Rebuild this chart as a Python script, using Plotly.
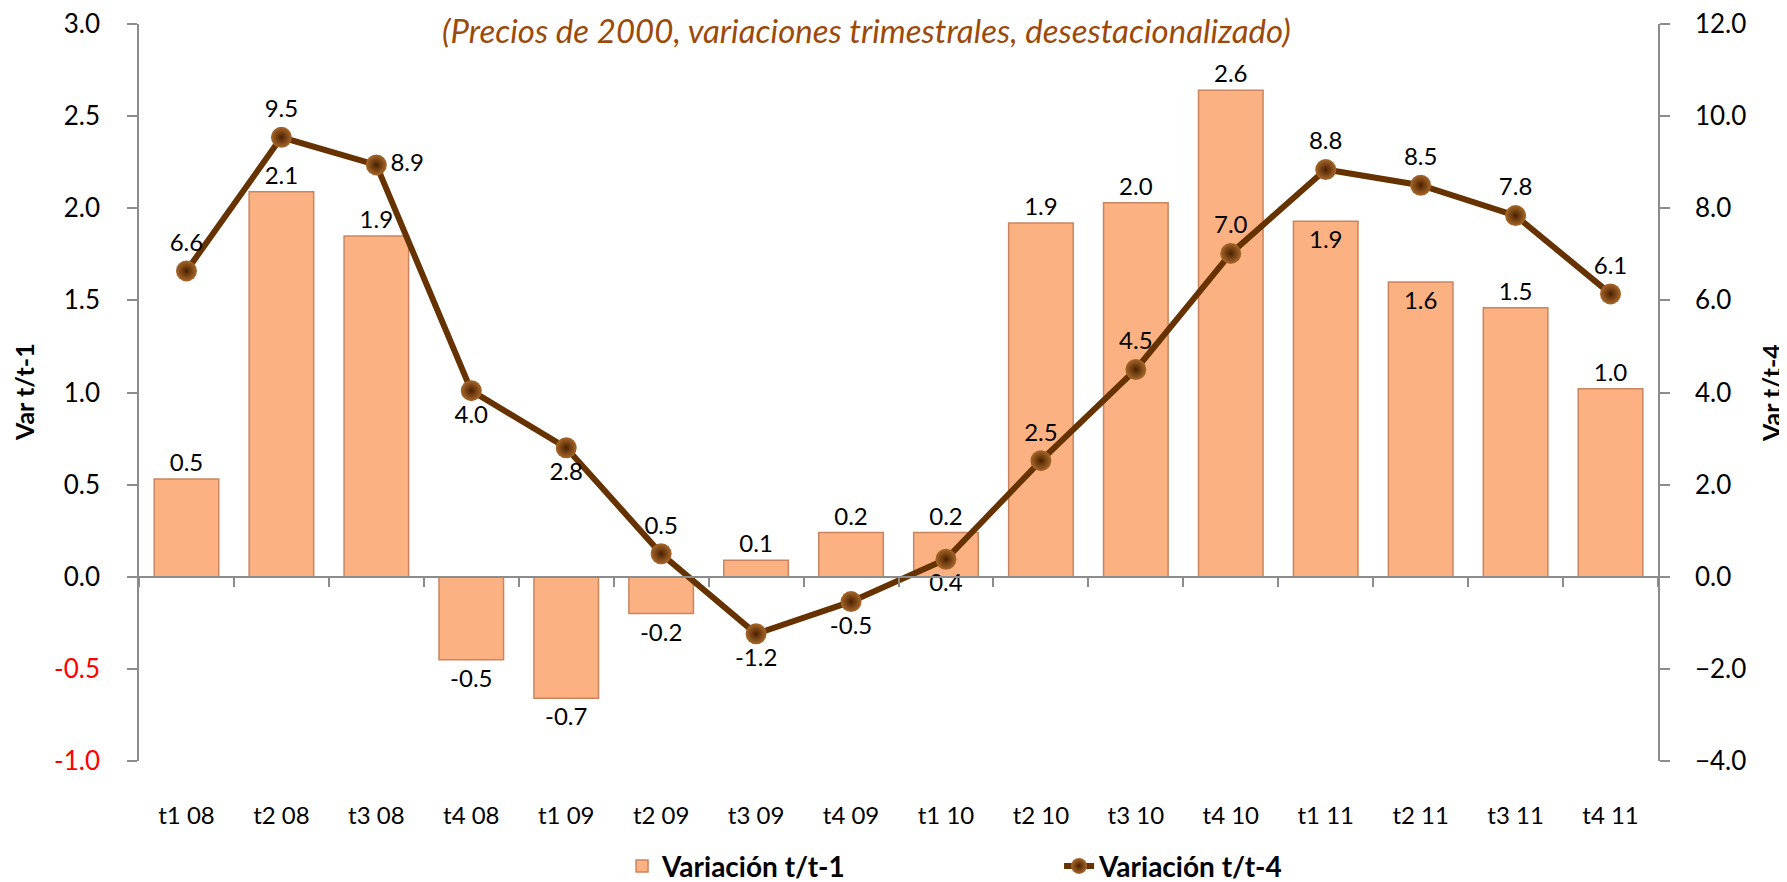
import plotly.graph_objects as go

# quarters
trimestres = ["t1 08", "t2 08", "t3 08", "t4 08", "t1 09", "t2 09", "t3 09", "t4 09",
              "t1 10", "t2 10", "t3 10", "t4 10", "t1 11", "t2 11", "t3 11", "t4 11"]

# variacion t/t-1 (left axis, bars)
var_t1 = [0.53, 2.09, 1.85, -0.45, -0.66, -0.20, 0.09, 0.24,
          0.24, 1.92, 2.03, 2.64, 1.93, 1.60, 1.46, 1.02]

# variacion t/t-4 (right axis, line)
var_t4 = [6.64, 9.54, 8.94, 4.04, 2.80, 0.50, -1.24, -0.54,
          0.38, 2.52, 4.50, 7.02, 8.84, 8.50, 7.84, 6.14]

left_ticks = [-1.0, -0.5, 0.0, 0.5, 1.0, 1.5, 2.0, 2.5, 3.0]
right_ticks = [-4.0, -2.0, 0.0, 2.0, 4.0, 6.0, 8.0, 10.0, 12.0]

FONT = "Lato"
BROWN = "#663300"
GREY = "#8C8C8C"

bar_pos = ["outside"] * 16
bar_pos[12] = "inside"
bar_pos[13] = "inside"

line_pos = ["top center", "top center", "middle right", "bottom center", "bottom center",
            "top center", "bottom center", "bottom center", "bottom center", "top center",
            "top center", "top center", "top center", "top center", "top center", "top center"]

fig = go.Figure()

fig.add_trace(go.Bar(
    x=trimestres, y=var_t1, name="<b>Variación t/t-1</b>",
    marker=dict(color="#FBB182", line=dict(color="#C98560", width=1.5)),
    texttemplate="%{y:.1f}", textposition=bar_pos, insidetextanchor="end",
    textfont=dict(family=FONT, size=24, color="black"),
    constraintext="none", cliponaxis=False,
    yaxis="y",
))

fig.add_trace(go.Scatter(
    x=trimestres, y=var_t4, name="<b>Variación t/t-4</b>", mode="lines+markers+text",
    line=dict(color=BROWN, width=6),
    marker=dict(size=21, color="#A8682A", gradient=dict(type="radial", color="#4A2000"),
                line=dict(width=0)),
    texttemplate="%{y:.1f}", textposition=line_pos,
    textfont=dict(family=FONT, size=24, color="black"),
    cliponaxis=False,
    yaxis="y2",
))

# empty trace so the boundary-tick axis gets drawn
fig.add_trace(go.Scatter(x=[None], y=[None], xaxis="x2", showlegend=False, hoverinfo="skip"))

left_text = [f"<span style='color:red'>{v:.1f}</span>" if v < 0 else f"{v:.1f}" for v in left_ticks]

# page body has an 8px margin, so the figure is a bit smaller than the window
fig.update_layout(
    width=1779, height=874,
    margin=dict(l=131, r=129, t=16, b=121, autoexpand=False),
    paper_bgcolor="white", plot_bgcolor="white",
    font=dict(family=FONT, size=24, color="black"),
    bargap=0.32,
    showlegend=True,
    legend=dict(orientation="h", x=0.318, xanchor="left", yref="container", y=0.018,
                yanchor="middle", entrywidth=392, entrywidthmode="pixels",
                font=dict(family=FONT, size=28, color="black")),
    xaxis=dict(type="category", range=[-0.5, 15.5], showline=False, ticks="", showgrid=False,
               zeroline=False, ticklabelstandoff=38, automargin=False,
               tickfont=dict(family=FONT, size=24)),
    xaxis2=dict(overlaying="x", anchor="free", position=0.25, range=[-0.5, 15.5],
                tick0=-0.5, dtick=1, showticklabels=False, ticks="outside", ticklen=9,
                tickcolor=GREY, tickwidth=1.5, showline=True, linecolor=GREY, linewidth=1.5,
                showgrid=False, zeroline=False, automargin=False),
    yaxis=dict(range=[-1, 3], tickvals=left_ticks, ticktext=left_text, showgrid=False,
               zeroline=False, showline=True, linecolor=GREY, linewidth=1.5,
               ticks="outside", ticklen=10, tickcolor=GREY, tickwidth=1.5,
               ticklabelstandoff=22, automargin=False, ticklabeloverflow="allow",
               tickfont=dict(family=FONT, size=26)),
    yaxis2=dict(range=[-4, 12], tickvals=right_ticks, tickformat=".1f", overlaying="y",
                side="right", showgrid=False, zeroline=False, showline=True,
                linecolor=GREY, linewidth=1.5, ticks="outside", ticklen=10,
                tickcolor=GREY, tickwidth=1.5, ticklabelstandoff=20, automargin=False,
                ticklabeloverflow="allow",
                tickfont=dict(family=FONT, size=26)),
)

fig.add_annotation(text="<i>(Precios de 2000, variaciones trimestrales, desestacionalizado)</i>",
                   xref="paper", yref="paper", x=0.479, y=1.0, xanchor="center",
                   yanchor="middle", yshift=-6,
                   showarrow=False, font=dict(family=FONT, size=33, color="#9C4A0A"))
fig.add_annotation(text="<b>Var t/t-1</b>", xref="paper", yref="paper", x=-0.076, y=0.5,
                   xanchor="center", textangle=-90, showarrow=False,
                   font=dict(family=FONT, size=25))
fig.add_annotation(text="<b>Var t/t-4</b>", xref="paper", yref="paper", x=1.074, y=0.5,
                   xanchor="center", textangle=-90, showarrow=False,
                   font=dict(family=FONT, size=25))

fig.write_html("out.html")
